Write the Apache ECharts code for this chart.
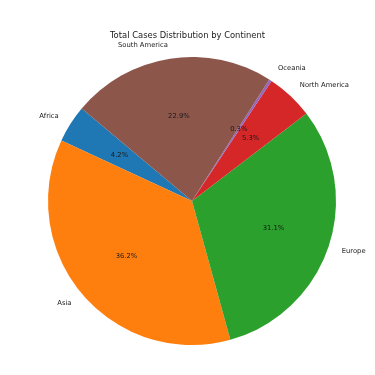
<!DOCTYPE html>
<html>
<head>
<meta charset="utf-8">
<script src="https://cdn.jsdelivr.net/npm/echarts@6/dist/echarts.min.js"></script>
<style>
html,body{margin:0;padding:0;background:#fff;}
#chart{width:375px;height:375px;}
</style>
</head>
<body>
<div id="chart"></div>
<script>
const categories = ['Africa', 'Asia', 'Europe', 'North America', 'Oceania', 'South America'];
const percentages = [4.2, 36.2, 31.1, 5.3, 0.3, 22.9];
const colors = ['#1f77b4', '#ff7f0e', '#2ca02c', '#d62728', '#9467bd', '#8c564b'];

const CX = 192, CY = 201, R = 144;
const FONT = 'DejaVu Sans';
const TXT = '#1a1a1a';

const data = categories.map((c, i) => ({ name: c, value: percentages[i] }));

const common = {
  type: 'pie',
  center: [CX, CY],
  startAngle: 140,
  clockwise: false,
  avoidLabelOverlap: false,
  minShowLabelAngle: 0,
  labelLine: { show: false },
  emphasis: { disabled: true },
  animation: false
};

const chart = echarts.init(document.getElementById('chart'), null, { renderer: 'canvas' });
chart.setOption({
  backgroundColor: '#ffffff',
  title: {
    text: 'Total Cases Distribution by Continent',
    left: 'center',
    top: 26.5,
    textStyle: { fontFamily: FONT, fontSize: 8.4, fontWeight: 'normal', color: TXT }
  },
  series: [
    Object.assign({}, common, {
      name: 'pie',
      radius: [0, R],
      data: data.map((d, i) => ({ name: d.name, value: d.value, itemStyle: { color: colors[i] } })),
      label: { show: false }
    }),
    Object.assign({}, common, {
      name: 'pct',
      silent: true,
      radius: [0, R * 1.2 - 7],
      data: data,
      itemStyle: { color: 'rgba(0,0,0,0)' },
      label: {
        show: true, position: 'inside',
        formatter: p => p.value.toFixed(1) + '%',
        fontFamily: FONT, fontSize: 6.8, color: TXT
      }
    }),
    Object.assign({}, common, {
      name: 'names',
      silent: true,
      radius: [0, R * 2.2 - 7],
      data: data,
      itemStyle: { color: 'rgba(0,0,0,0)' },
      label: {
        show: true, position: 'inside',
        formatter: '{b}',
        fontFamily: FONT, fontSize: 6.8, color: TXT
      },
      labelLayout: function (p) {
        const mid = p.labelRect.x + p.labelRect.width / 2;
        return { align: mid < CX ? 'right' : 'left' };
      }
    })
  ]
});
</script>
</body>
</html>
